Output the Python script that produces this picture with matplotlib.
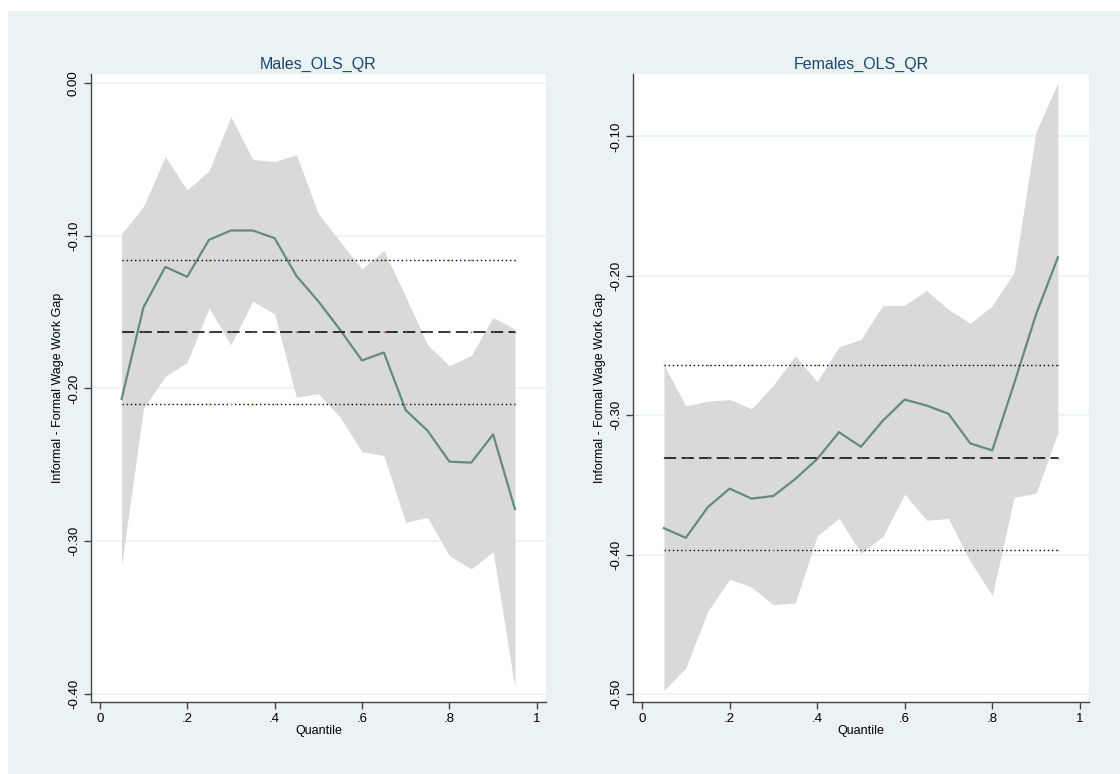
import numpy as np
import matplotlib
matplotlib.use('Agg')
import matplotlib.pyplot as plt
from matplotlib.patches import Rectangle

plt.rcParams['font.family'] = ['Liberation Sans', 'DejaVu Sans']

# quantiles used in the QR estimates
quantiles = [0.05, 0.10, 0.15, 0.20, 0.25, 0.30, 0.35, 0.40, 0.45, 0.50,
             0.55, 0.60, 0.65, 0.70, 0.75, 0.80, 0.85, 0.90, 0.95]

# Males: QR estimate and 95% band
males_qr = [-0.207, -0.147, -0.1205, -0.127, -0.1028, -0.0967, -0.0967, -0.1017, -0.1264, -0.143,
            -0.1617, -0.1817, -0.1765, -0.2142, -0.2277, -0.2479, -0.2486, -0.2301, -0.279]
males_hi = [-0.0989, -0.081, -0.0484, -0.0702, -0.0577, -0.0222, -0.0501, -0.0516, -0.0471, -0.0858,
            -0.104, -0.1218, -0.1098, -0.140, -0.1715, -0.1852, -0.1784, -0.1536, -0.1612]
males_lo = [-0.3159, -0.2131, -0.1922, -0.183, -0.1475, -0.1715, -0.1431, -0.1512, -0.2057, -0.2035,
            -0.219, -0.2414, -0.244, -0.2876, -0.2845, -0.3094, -0.3181, -0.3068, -0.396]
males_ols = -0.1632
males_ols_hi = -0.1159
males_ols_lo = -0.2105

# Females
females_qr = [-0.3811, -0.388, -0.3661, -0.3527, -0.3599, -0.358, -0.3458, -0.3315, -0.3122, -0.3227,
              -0.304, -0.2888, -0.2931, -0.299, -0.3203, -0.3253, -0.2773, -0.2277, -0.1868]
females_hi = [-0.2641, -0.2935, -0.290, -0.2888, -0.2955, -0.2785, -0.2574, -0.2761, -0.251, -0.2457,
              -0.2213, -0.2213, -0.2105, -0.2242, -0.2342, -0.2215, -0.1976, -0.0967, -0.0615]
females_lo = [-0.4974, -0.4814, -0.4408, -0.4177, -0.4234, -0.436, -0.4348, -0.3866, -0.374, -0.399,
              -0.3871, -0.3566, -0.3754, -0.3742, -0.405, -0.4294, -0.359, -0.3561, -0.3126]
females_ols = -0.331
females_ols_hi = -0.2641
females_ols_lo = -0.3969

x_ticks = [0, 0.2, 0.4, 0.6, 0.8, 1.0]
x_ticklabels = ['0', '.2', '.4', '.6', '.8', '1']
males_yticks = [0.0, -0.1, -0.2, -0.3, -0.4]
females_yticks = [-0.1, -0.2, -0.3, -0.4, -0.5]

bg = '#eaf2f3'
band = '#d9d9d9'
line_col = '#648c7a'
title_col = '#1a476f'

fig = plt.figure(figsize=(11.2, 7.74), dpi=100)
fig.patch.set_facecolor('white')
# light blue graph region (stata s2color)
bg_ax = fig.add_axes([8 / 1120, 0, 1 - 8 / 1120, 1 - 11 / 774], zorder=-5)
bg_ax.set_facecolor(bg)
bg_ax.set_xticks([])
bg_ax.set_yticks([])
for s in bg_ax.spines.values():
    s.set_visible(False)


def panel(rect, title, qr, hi, lo, ols, ols_hi, ols_lo, yticks, ylim):
    ax = fig.add_axes(rect)
    ax.set_facecolor('white')
    ax.fill_between(quantiles, lo, hi, color=band, linewidth=0, zorder=1)
    ax.plot(quantiles, qr, color=line_col, linewidth=1.6, zorder=3)
    x0, x1 = quantiles[0], quantiles[-1]
    # OLS estimate and its CI
    ax.plot([x0, x1], [ols, ols], color='black', linewidth=1.1, dashes=(8, 3.5), zorder=4)
    ax.plot([x0, x1], [ols_hi, ols_hi], color='black', linewidth=1.0, dashes=(1, 2), zorder=4)
    ax.plot([x0, x1], [ols_lo, ols_lo], color='black', linewidth=1.0, dashes=(1, 2), zorder=4)
    ax.scatter(quantiles, [ols] * len(quantiles), s=1.5, color='#c0504d', zorder=5, linewidths=0)
    ax.scatter(quantiles, [ols_hi] * len(quantiles), s=1.5, color='#7a9a3a', zorder=5, linewidths=0)
    ax.scatter(quantiles, [ols_lo] * len(quantiles), s=1.5, color='#f0a030', zorder=5, linewidths=0)

    ax.set_xlim(-0.02, 1.021)
    ax.set_ylim(*ylim)
    ax.set_xticks(x_ticks)
    ax.set_xticklabels(x_ticklabels)
    ax.set_yticks(yticks)
    ax.set_yticklabels([f'{v:.2f}' for v in yticks], rotation=90, va='center')
    ax.yaxis.grid(True, color=bg, linewidth=1.2, zorder=0)
    ax.set_axisbelow(True)
    for s in ['top', 'right']:
        ax.spines[s].set_visible(False)
    for s in ['left', 'bottom']:
        ax.spines[s].set_color('#444444')
        ax.spines[s].set_linewidth(1.0)
    ax.tick_params(axis='both', direction='out', length=5, width=1, color='#444444',
                   labelsize=9.5, pad=3)
    ax.set_title(title, color=title_col, fontsize=11.5, pad=4)
    ax.set_xlabel('Quantile', fontsize=9, labelpad=0)
    ax.set_ylabel('Informal - Formal Wage Work Gap', fontsize=9, labelpad=3)
    return ax


panel([91 / 1120, 71.7 / 774, 455 / 1120, 628 / 774], 'Males_OLS_QR',
      males_qr, males_hi, males_lo, males_ols, males_ols_hi, males_ols_lo,
      males_yticks, (-0.4054, 0.0055))
panel([633.3 / 1120, 71.7 / 774, 455.7 / 1120, 628 / 774], 'Females_OLS_QR',
      females_qr, females_hi, females_lo, females_ols, females_ols_hi, females_ols_lo,
      females_yticks, (-0.506, -0.0555))

fig.savefig('out.png', dpi=100, facecolor=fig.get_facecolor())
